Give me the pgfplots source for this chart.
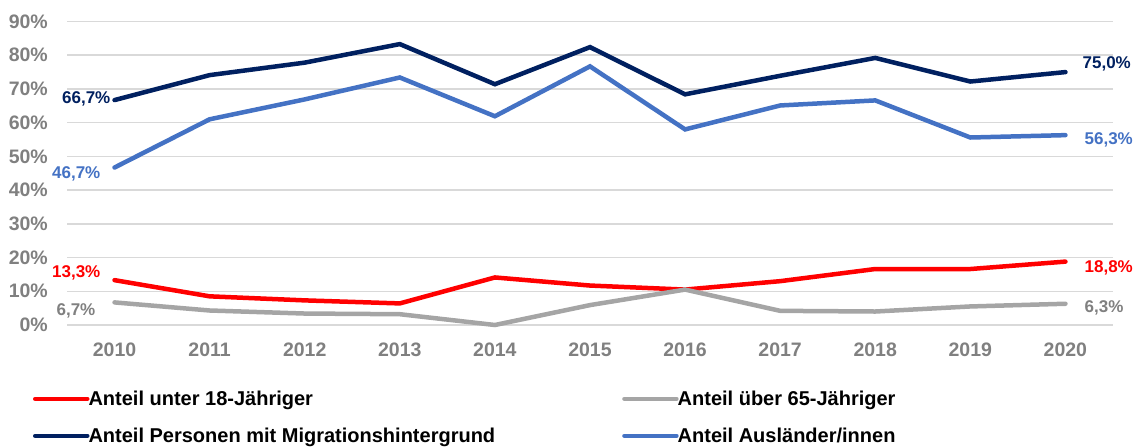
\documentclass[border=0pt]{standalone}
\usepackage{fontspec}
\setmainfont{Liberation Sans}
\usepackage{pgfplots}
\pgfplotsset{compat=1.18}
\definecolor{cRed}{HTML}{FF0000}
\definecolor{cGrey}{HTML}{A5A5A5}
\definecolor{cNavy}{HTML}{002060}
\definecolor{cBlue}{HTML}{4472C4}
\definecolor{cTick}{HTML}{808080}
\definecolor{cGrid}{HTML}{D9D9D9}

\newcommand{\tickfont}{\fontsize{19.5}{23}\selectfont\bfseries}
\newcommand{\lblfont}{\fontsize{17}{20}\selectfont\bfseries}
\newcommand{\legfont}{\fontsize{20}{24}\selectfont\bfseries}

\begin{document}
\begin{tikzpicture}[x=1pt,y=1pt]
\useasboundingbox (0,0) rectangle (1137,447);
\begin{axis}[
    at={(67pt,122pt)}, anchor=south west,
    scale only axis, width=1046pt, height=303.5pt,
    xmin=2009.5, xmax=2020.5, ymin=0, ymax=90,
    clip=false,
    axis line style={draw=none},
    major tick length=0pt,
    ymajorgrids, grid style={cGrid, line width=1.5pt},
    xtick={2010,...,2020},
    xticklabels={2010,2011,2012,2013,2014,2015,2016,2017,2018,2019,2020},
    ytick={0,10,...,90},
    yticklabels={0\%,10\%,20\%,30\%,40\%,50\%,60\%,70\%,80\%,90\%},
    xticklabel style={font=\tickfont, text=cTick, inner sep=0pt, anchor=north, yshift=-18pt},
    yticklabel style={font=\tickfont, text=cTick, inner sep=0pt, anchor=east, xshift=-19pt},
    every axis plot/.append style={line width=4.5pt, line cap=round, no markers},
    legend columns=2,
    legend cell align=left,
    legend image code/.code={\draw[#1] (0pt,2pt) -- (52pt,2pt);},
    legend style={
        at={(-0.0325,-0.2204)}, anchor=north west,
        draw=none, fill=none, inner sep=0pt, outer sep=0pt,
        column sep=-1pt, row sep=19pt,
        /tikz/every even column/.append style={column sep=127pt},
        nodes={inner sep=0pt, font=\legfont, text height=14pt, text depth=4pt},
    },
]
\addplot[cRed] coordinates {(2010,13.3) (2011,8.5) (2012,7.3) (2013,6.4) (2014,14.1) (2015,11.7) (2016,10.5) (2017,13.0) (2018,16.6) (2019,16.6) (2020,18.8)};
\addlegendentry{Anteil unter 18-Jähriger}
\addplot[cGrey] coordinates {(2010,6.7) (2011,4.3) (2012,3.4) (2013,3.2) (2014,0.0) (2015,5.9) (2016,10.5) (2017,4.2) (2018,4.0) (2019,5.5) (2020,6.3)};
\addlegendentry{Anteil über 65-Jähriger}
\addplot[cNavy] coordinates {(2010,66.7) (2011,74.1) (2012,77.8) (2013,83.3) (2014,71.4) (2015,82.4) (2016,68.4) (2017,73.9) (2018,79.2) (2019,72.2) (2020,75.0)};
\addlegendentry{Anteil Personen mit Migrationshintergrund}
\addplot[cBlue] coordinates {(2010,46.7) (2011,61.0) (2012,66.9) (2013,73.4) (2014,61.9) (2015,76.7) (2016,58.0) (2017,65.1) (2018,66.6) (2019,55.6) (2020,56.3)};
\addlegendentry{Anteil Ausländer/innen}

% value labels at the first and last year
\node[anchor=base east, inner sep=0pt, font=\lblfont, text=cNavy, xshift=-4pt, yshift=-3.4pt] at (axis cs:2010,66.7) {66,7\%};
\node[anchor=base east, inner sep=0pt, font=\lblfont, text=cBlue, xshift=-14pt, yshift=-11pt] at (axis cs:2010,46.7) {46,7\%};
\node[anchor=base east, inner sep=0pt, font=\lblfont, text=cRed, xshift=-14pt, yshift=2.7pt] at (axis cs:2010,13.3) {13,3\%};
\node[anchor=base east, inner sep=0pt, font=\lblfont, text=cTick, xshift=-19pt, yshift=-13pt] at (axis cs:2010,6.7) {6,7\%};
\node[anchor=base west, inner sep=0pt, font=\lblfont, text=cNavy, xshift=17pt, yshift=3.6pt] at (axis cs:2020,75.0) {75,0\%};
\node[anchor=base west, inner sep=0pt, font=\lblfont, text=cBlue, xshift=19pt, yshift=-9.3pt] at (axis cs:2020,56.3) {56,3\%};
\node[anchor=base west, inner sep=0pt, font=\lblfont, text=cRed, xshift=19pt, yshift=-11pt] at (axis cs:2020,18.8) {18,8\%};
\node[anchor=base west, inner sep=0pt, font=\lblfont, text=cTick, xshift=19pt, yshift=-8.7pt] at (axis cs:2020,6.3) {6,3\%};
\end{axis}
\end{tikzpicture}
\end{document}
